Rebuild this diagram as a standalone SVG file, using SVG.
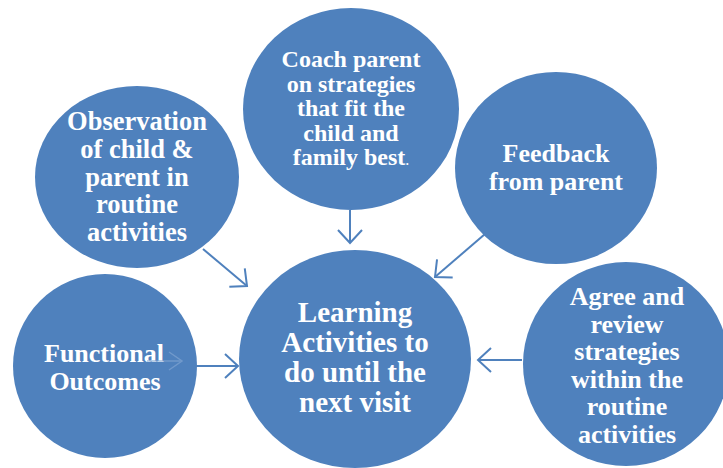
<svg xmlns="http://www.w3.org/2000/svg" width="723" height="468" viewBox="0 0 723 468">
<style>
.node{fill:#4F81BD;}
.lbl{font-family:'Liberation Serif','Tinos','Times New Roman','DejaVu Serif',serif;font-weight:700;fill:#FFFFFF;text-anchor:middle;}
.conn{stroke:#4F81BD;stroke-width:2;fill:none;marker-end:url(#arr);}
</style>
<defs>
<marker id="arr" viewBox="-15 -15 20 30" refX="0" refY="0" markerWidth="20" markerHeight="30" markerUnits="userSpaceOnUse" orient="auto" overflow="visible">
<path d="M-13,-12 L0,0 L-13,12" fill="none" stroke="#4F81BD" stroke-width="2"/>
</marker>
<marker id="ghost" viewBox="-15 -15 20 30" refX="0" refY="0" markerWidth="20" markerHeight="30" markerUnits="userSpaceOnUse" orient="auto" overflow="visible">
<path d="M-13,-9 L0,0 L-13,9" fill="none" stroke="#7FA4D2" stroke-width="1.5"/>
</marker>
</defs>
<rect width="723" height="468" fill="#FFFFFF"/>
<g id="coach">
<ellipse class="node" cx="351" cy="109" rx="108" ry="101"/>
<text class="lbl" font-family="Liberation Serif, serif" font-size="24"><tspan x="351" y="67">Coach parent</tspan><tspan x="351" y="91.5">on strategies</tspan><tspan x="351" y="116">that fit the</tspan><tspan x="351" y="140.5">child and</tspan><tspan x="351" y="165">family best<tspan font-size="16" font-weight="normal">.</tspan></tspan></text>
</g>
<g id="observation">
<ellipse class="node" cx="137" cy="177" rx="102" ry="91"/>
<text class="lbl" font-family="Liberation Serif, serif" font-size="26.5"><tspan x="137" y="130">Observation</tspan><tspan x="137" y="157.5">of child &amp;</tspan><tspan x="137" y="185.5">parent in</tspan><tspan x="137" y="213">routine</tspan><tspan x="137" y="240.5">activities</tspan></text>
</g>
<g id="feedback">
<ellipse class="node" cx="556" cy="168" rx="101" ry="96"/>
<text class="lbl" font-family="Liberation Serif, serif" font-size="26"><tspan x="556" y="162">Feedback</tspan><tspan x="556" y="190">from parent</tspan></text>
</g>
<g id="functional">
<ellipse class="node" cx="105" cy="366" rx="92" ry="92"/>
<text class="lbl" font-family="Liberation Serif, serif" font-size="26"><tspan x="104" y="362">Functional</tspan><tspan x="105" y="390">Outcomes</tspan></text>
</g>
<g id="learning">
<ellipse class="node" cx="355" cy="359" rx="116" ry="109"/>
<text class="lbl" font-family="Liberation Serif, serif" font-size="29"><tspan x="355" y="322">Learning</tspan><tspan x="355" y="352">Activities to</tspan><tspan x="355" y="382">do until the</tspan><tspan x="355" y="412">next visit</tspan></text>
</g>
<g id="agree">
<ellipse class="node" cx="626" cy="364" rx="103" ry="102"/>
<text class="lbl" font-family="Liberation Serif, serif" font-size="26"><tspan x="627" y="305">Agree and</tspan><tspan x="627" y="332.5">review</tspan><tspan x="627" y="360">strategies</tspan><tspan x="627" y="387.5">within the</tspan><tspan x="627" y="415">routine</tspan><tspan x="627" y="442.5">activities</tspan></text>
</g>
<g id="connectors">
<path class="conn" d="M350,210 L350,243"/>
<path class="conn" d="M203,249 L247,286"/>
<path class="conn" d="M485,234 L435,277"/>
<path class="conn" d="M196,366 L238,366"/>
<path class="conn" d="M522,360 L478,360"/>
<path d="M147,361 L182,361" fill="none" stroke="#7FA4D2" stroke-width="1.5" marker-end="url(#ghost)" opacity="0.7"/>
</g>
</svg>
